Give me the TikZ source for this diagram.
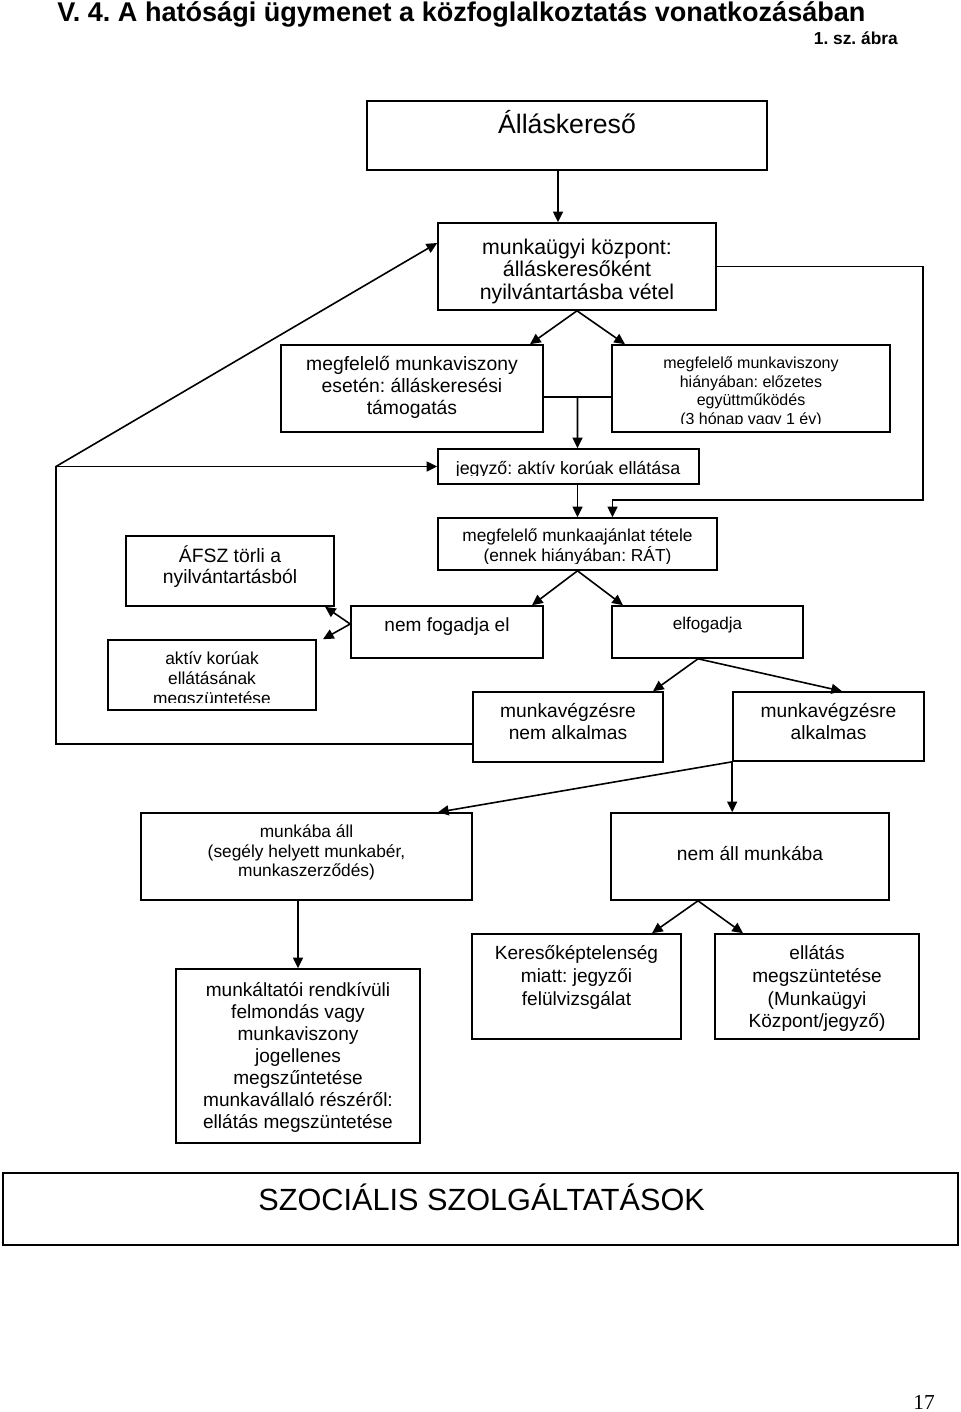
\documentclass[tikz,border=0pt]{standalone}
\usepackage{fontspec}
\setmainfont{Liberation Sans}
\newfontfamily\numfont{Liberation Serif}
\usetikzlibrary{arrows.meta,calc}
\frenchspacing
\newcommand\mystrut{\rule{0pt}{0.95em}}
\newcommand\fs[2]{\fontsize{#1pt}{#2pt}\selectfont}
\newcommand\mkbox[5]{\node[boxst, minimum width={(#4-#2)*0.75pt}, minimum height={(#5-#3)*0.75pt}] (#1) at ({(#2+#4)/2},{(#3+#5)/2}) {};}
\newcommand\cutbottom[2]{\fill[white] ($(#1.south west)+(2,-1.8)$) rectangle ($(#1.south east)+(-2,-#2)$);}
\begin{document}
\begin{tikzpicture}[x=0.75pt,y=-0.75pt,
  boxst/.style={draw=black, line width=1.2pt, inner sep=0pt, rectangle},
  txt/.style={inner sep=0pt, align=center},
  arr/.style={line width=1.2pt, -{Triangle[length=8pt,width=7.5pt]}},
  ln/.style={line width=1.2pt}]
\useasboundingbox (0,0) rectangle (960,1412);
% boxes
\mkbox{B1}{367}{101}{767}{170}
\mkbox{B2}{438}{223}{716}{310}
\mkbox{B3}{281}{345}{543}{432}
\mkbox{B4}{612}{345}{890}{432}
\mkbox{B5}{438}{449}{699}{484}
\mkbox{B6}{438}{518}{717}{570}
\mkbox{B7}{126}{536}{334}{606}
\mkbox{B8}{351}{606}{543}{658}
\mkbox{B9}{612}{606}{803}{658}
\mkbox{B10}{108}{640}{316}{710}
\mkbox{B11}{473}{692}{663}{762}
\mkbox{B12}{733}{692}{924}{761}
\mkbox{B13}{141}{813}{472}{900}
\mkbox{B14}{611}{813}{889}{900}
\mkbox{B15}{176}{969}{420}{1143}
\mkbox{B16}{472}{934}{681}{1039}
\mkbox{B17}{715}{934}{919}{1039}
\mkbox{B18}{3}{1173}{958}{1245}
% texts
\node[txt, anchor=base west, font=\bfseries\fs{20.3}{24}] (title) at (57,21.7) {V. 4. A hatósági ügymenet a közfoglalkoztatás vonatkozásában};
\node[txt, anchor=base east, font=\bfseries\fs{13}{15}] (abra) at (898,45) {1. sz. ábra};
\node[txt, anchor=base, font=\fs{20}{24}] (t1) at (567,134) {Álláskereső};
\node[txt, anchor=north, font=\fs{16}{17}] (t2) at (577,233.7) {\mystrut munkaügyi központ:\\álláskeresőként\\nyilvántartásba vétel};
\node[txt, anchor=north, font=\fs{14.5}{16.5}] (t3) at (412,351.6) {\mystrut megfelelő munkaviszony\\esetén: álláskeresési\\támogatás};
\node[txt, anchor=north, font=\fs{12}{14}] (t4) at (751,353.1) {\mystrut megfelelő munkaviszony\\hiányában: előzetes\\együttműködés\\(3 hónap vagy 1 év)};
\node[txt, anchor=base, font=\fs{13.4}{15}] (t5) at (568,474.3) {jegyző: aktív korúak ellátása};
\node[txt, anchor=north, font=\fs{13}{14.5}] (t6) at (577.5,525.2) {\mystrut megfelelő munkaajánlat tétele\\(ennek hiányában: RÁT)};
\node[txt, anchor=north, font=\fs{14.5}{15.75}] (t7) at (230,543.9) {\mystrut ÁFSZ törli a\\nyilvántartásból};
\node[txt, anchor=base, font=\fs{14.3}{16}] (t8) at (447,631) {nem fogadja el};
\node[txt, anchor=base, font=\fs{12.8}{15}] (t9) at (707.5,629.3) {elfogadja};
\node[txt, anchor=north, font=\fs{13}{15}] (t10) at (212,647.8) {\mystrut aktív korúak\\ellátásának\\megszüntetése};
\node[txt, anchor=north, font=\fs{14.4}{17}] (t11) at (568,698.5) {\mystrut munkavégzésre\\nem alkalmas};
\node[txt, anchor=north, font=\fs{14.4}{17}] (t12) at (828.5,698.5) {\mystrut munkavégzésre\\alkalmas};
\node[txt, anchor=north, font=\fs{13}{14.6}] (t13) at (306.5,821.2) {\mystrut munkába áll\\(segély helyett munkabér,\\munkaszerződés)};
\node[txt, anchor=base, font=\fs{14.4}{17}] (t14) at (750,860.7) {nem áll munkába};
\node[txt, anchor=north, font=\fs{14.3}{16.5}] (t15) at (298,977.9) {\mystrut munkáltatói rendkívüli\\felmondás vagy\\munkaviszony\\jogellenes\\megszűntetése\\munkavállaló részéről:\\ellátás megszüntetése};
\node[txt, anchor=north, font=\fs{14.3}{17}] (t16) at (576.5,941.3) {\mystrut Keresőképtelenség\\miatt: jegyzői\\felülvizsgálat};
\node[txt, anchor=north, font=\fs{14.3}{17}] (t17) at (817,941.3) {\mystrut ellátás\\megszüntetése\\(Munkaügyi\\Központ/jegyző)};
\node[txt, anchor=base, font=\fs{23}{27}] (t18) at (481.6,1210) {SZOCIÁLIS SZOLGÁLTATÁSOK};
\node[txt, anchor=base, font=\numfont\fs{16}{18}] (pg) at (924,1409) {17};
% clipped text bottoms
\cutbottom{B4}{8.5}
\cutbottom{B5}{9}
\cutbottom{B6}{7}
\cutbottom{B10}{8}
% connectors
\coordinate (L) at (56,466.5);
\coordinate (R) at (923,500);
\draw[arr] ($(B1.south)+(-9,0)$) -- ($(B2.north)+(-19,0)$);
\draw[arr] (B2.south) -- ($(B3.north)+(118,0)$);
\draw[arr] (B2.south) -- ($(B4.north)+(-126,0)$);
\draw[ln] ($(B3.east)+(0,8.5)$) -- ($(B4.west)+(0,8.5)$);
\draw[arr] ($(B3.east)!0.5!(B4.west)+(0,8.5)$) -- ($(B5.north)+(9,0)$);
\draw[arr] ($(B11.west)+(0,17)$) -| (L) -- ($(B2.west)+(0,-23.5)$);
\draw[arr] (L) -- (B5.west);
\draw[arr] (B2.east) -| (R) -| ($(B6.north)+(35,0)$);
\draw[arr] (B6.north |- B5.south) -- (B6.north);
\draw[arr] (B6.south) -- ($(B8.north)+(85,0)$);
\draw[arr] (B6.south) -- ($(B9.north)+(-84.5,0)$);
\draw[arr] ($(B8.west)+(0,-8)$) -- ($(B7.south)+(95,0)$);
\draw[arr] ($(B8.west)+(0,-8)$) -- ($(B10.north)+(111,0)$);
\draw[arr] ($(B9.south)+(-9.5,0)$) -- ($(B11.north)+(85,0)$);
\draw[arr] ($(B9.south)+(-9.5,0)$) -- ($(B12.north)+(13.5,0)$);
\draw[arr] (B12.south west) -- ($(B13.north)+(131.5,0)$);
\draw[arr] (B12.south west) -- (B12.south west |- B14.north);
\draw[arr] (B15.north |- B13.south) -- (B15.north);
\draw[arr] ($(B14.south)+(-52,0)$) -- ($(B16.north)+(75.5,0)$);
\draw[arr] ($(B14.south)+(-52,0)$) -- ($(B17.north)+(-74,0)$);
\end{tikzpicture}
\end{document}
